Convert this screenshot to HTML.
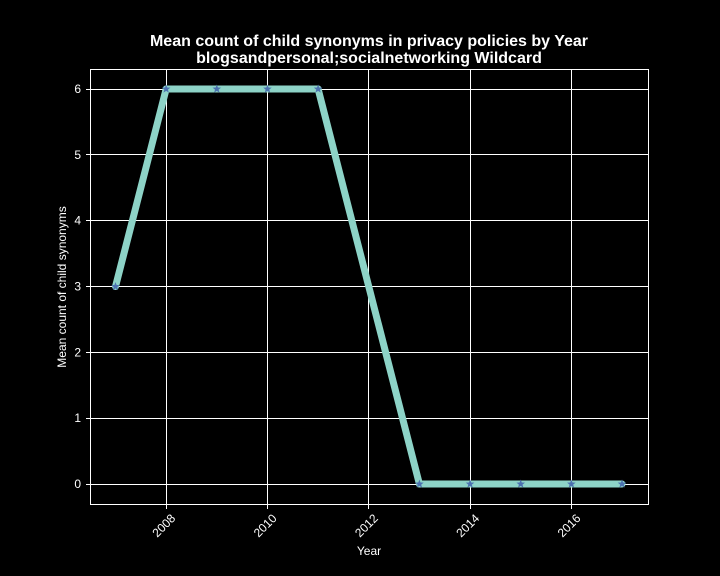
<!DOCTYPE html>
<html><head><meta charset="utf-8"><style>
body{margin:0;background:#000;}
svg{display:block;font-family:"Liberation Sans",sans-serif;}
</style></head><body>
<svg id="chart" width="720" height="576" viewBox="0 0 720 576">
<rect width="720" height="576" fill="#000"/>
<g id="grid"></g>
<rect x="90.5" y="69.5" width="558" height="435" fill="none" stroke="#fff" stroke-width="1" shape-rendering="crispEdges"/>
<g id="ticks"></g>
<g id="series"></g>
<text x="369" y="46" text-anchor="middle" fill="#fff" font-size="16" font-weight="bold">Mean count of child synonyms in privacy policies by Year</text>
<text x="369" y="63" text-anchor="middle" fill="#fff" font-size="16" font-weight="bold">blogsandpersonal;socialnetworking Wildcard</text>
<text x="369" y="555" text-anchor="middle" fill="#fff" font-size="12">Year</text>
<text transform="translate(66,287) rotate(-90)" text-anchor="middle" fill="#fff" font-size="12">Mean count of child synonyms</text>
</svg>
<script>
const years = [2007,2008,2009,2010,2011,2013,2014,2015,2016,2017];
const values = [3,6,6,6,6,0,0,0,0,0];
const xTicks = [2008,2010,2012,2014,2016];
const yTicks = [0,1,2,3,4,5,6];
const NS='http://www.w3.org/2000/svg';
const x = v => 115.5 + (v-2007)*50.65;
const y = v => 484 - v*65.83;
const px = v => Math.round(v-0.5)+0.5;
function mk(tag, attrs, parent){const e=document.createElementNS(NS,tag);for(const k in attrs)e.setAttribute(k,attrs[k]);parent.appendChild(e);return e;}
const grid=document.getElementById('grid'), ticks=document.getElementById('ticks'), series=document.getElementById('series');
xTicks.forEach(t=>{
  const gx=px(x(t));
  const l=mk('line',{x1:gx,x2:gx,y1:69.5,y2:504.5,stroke:'#fff','stroke-width':1},grid);
  
  
  const tk=mk('line',{x1:gx,x2:gx,y1:504.5,y2:509,stroke:'#fff'},ticks);
  
  
  const tx=mk('text',{x:0,y:0,fill:'#fff','font-size':12,'text-anchor':'end',transform:`translate(${x(t)+10},${519}) rotate(-45)`},ticks);
  tx.textContent=t;
  
  
});
yTicks.forEach(t=>{
  const gy=px(y(t));
  const l=mk('line',{x1:90.5,x2:648.5,y1:gy,y2:gy,stroke:'#fff','stroke-width':1},grid);
  
  
  const tk=mk('line',{x1:86,x2:90.5,y1:gy,y2:gy,stroke:'#fff'},ticks);
  
  
  const tx=mk('text',{x:81,y:y(t)+4,fill:'#fff','font-size':12,'text-anchor':'end'},ticks);
  tx.textContent=t;
  
  
});
const pts=years.map((yr,i)=>x(yr)+','+y(values[i])).join(' ');
const pl=mk('polyline',{points:pts,fill:'none',stroke:'#8dd3c7','stroke-width':7,'stroke-linejoin':'round','stroke-linecap':'round'},series);


function star(cx,cy,r){let p=[];for(let i=0;i<10;i++){const a=-Math.PI/2+i*Math.PI/5;const rr=i%2?r*0.42:r;p.push((cx+rr*Math.cos(a)).toFixed(2)+','+(cy+rr*Math.sin(a)).toFixed(2));}return p.join(' ');}
years.forEach((yr,i)=>{
  const s=mk('polygon',{points:star(x(yr),y(values[i]),4.5),fill:'#4c72b0'},series);
  
  
});
</script>
</body></html>
